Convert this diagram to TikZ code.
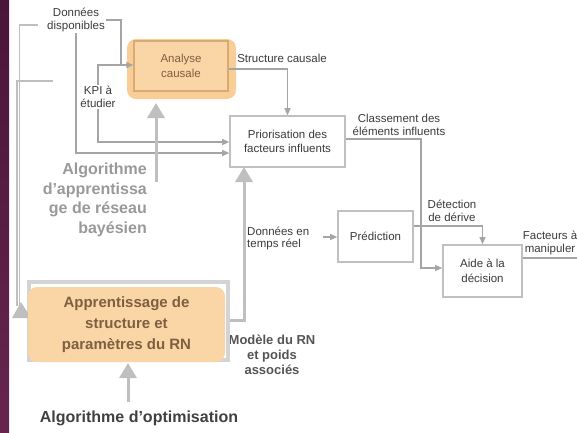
\documentclass[tikz,border=0pt]{standalone}
\usepackage{fontspec}
\setmainfont{Liberation Sans}
\usetikzlibrary{arrows.meta,calc}

\definecolor{txt}{HTML}{3A3A3A}
\definecolor{conn}{HTML}{A5A5A5}
\definecolor{boxgray}{HTML}{C0C0C0}
\definecolor{bigray}{HTML}{BFBFBF}
\definecolor{orfill}{HTML}{FAD5A6}
\definecolor{orglow}{HTML}{F9CD96}
\definecolor{oredge}{HTML}{D9AA74}
\definecolor{brown}{HTML}{7E5F40}
\definecolor{plumdark}{HTML}{4A1538}
\definecolor{plumlight}{HTML}{66254F}

\tikzset{
  lbl/.style={font=\fontsize{11.5}{13.5}\selectfont, text=txt, align=center, inner sep=1pt},
  stepbox/.style={draw=boxgray, line width=1.6pt, fill=white, text=txt,
    font=\fontsize{11.5}{14.5}\selectfont, align=center, inner sep=0pt},
  link/.style={draw=conn, line width=1.1pt},
  linkarrow/.style={link, -{Triangle[length=7pt,width=6pt]}},
  bigarrow/.style={draw=bigray, line width=3pt, -{Triangle[length=15pt,width=17pt]}},
}

\begin{document}
\begin{tikzpicture}[x=1pt,y=-1pt]
\useasboundingbox (0,0) rectangle (577,432);
\clip (0,0) rectangle (577,432);

% plum band on the left edge
\shade[top color=plumdark, bottom color=plumlight] (0,0) rectangle (9,432);

% ---- text labels ----
\node[lbl] (dispo) at (76,20) {Données\\disponibles};
\node[lbl] (kpi) at (98,97) {KPI à\\étudier};
\node[lbl] (struct) at (282,58) {Structure causale};
\node[lbl] (classe) at (399,125) {Classement des\\éléments influents};
\node[lbl] (detect) at (452,211) {Détection\\de dérive};
\node[lbl, font=\fontsize{11.5}{12}\selectfont, align=left, anchor=west] (reel) at (246,238) {Données en\\temps réel};
\node[lbl] (facteurs) at (550,243) {Facteurs à\\manipuler};
\node[font=\bfseries\fontsize{16}{19.5}\selectfont, text=black!40, align=right, anchor=east, inner sep=0pt]
  (bayes) at (147,200) {Algorithme\\d’apprentissa\\ge de réseau\\bayésien};
\node[font=\bfseries\fontsize{13}{15}\selectfont, text=black!67, align=center, inner sep=0pt]
  (modele) at (272,355) {Modèle du RN\\et poids\\associés};
\node[font=\bfseries\fontsize{16}{19}\selectfont, text=black!75, inner sep=0pt]
  (optim) at (139,418) {Algorithme d’optimisation};

% ---- orange halo behind the causal analysis box ----
\fill[orglow, rounded corners=9pt] (127,39) rectangle (236,99);

% ---- junction points ----
\coordinate (j1) at (121,65);
\coordinate (bend) at (421,268);
\coordinate (left1) at (38,25);
\coordinate (left2) at (53,81);
\coordinate (exit) at (590,258);

% ---- process boxes ----
\node[stepbox, draw=oredge, fill=orfill, line width=1.4pt, text=brown, minimum width=94pt, minimum height=50pt]
  (analyse) at (181,66) {Analyse\\causale};
\node[stepbox, minimum width=115pt, minimum height=51pt] (prior) at (287.5,141.5) {Priorisation des\\facteurs influents};
\node[stepbox, minimum width=75pt, minimum height=51pt] (pred) at (375.5,236.5) {Prédiction};
\node[stepbox, minimum width=79pt, minimum height=52pt] (aide) at (482.5,271) {Aide à la\\décision};

% learning block: grey frame with the orange box on top
\draw[draw=black!17, line width=4pt] (29,282) rectangle (228,360);
\coordinate (frameE) at (230,320);
\fill[bigray] (12,318) -- (21,302) -- (31,318) -- cycle;
\node[fill=orfill, rounded corners=9pt, minimum width=197pt, minimum height=75pt, inner sep=0pt,
  text=brown, font=\bfseries\fontsize{15}{21}\selectfont, align=center]
  (appr) at (126.5,324.5) {Apprentissage de\\structure et\\paramètres du RN};

% ---- thin connectors ----
\draw[linkarrow] (dispo.east) -| (j1) -- (j1 -| analyse.west);
\draw[link] (kpi.north) |- (j1);
\draw[linkarrow] (kpi.south) |- (prior.west |- 0,142);
\draw[linkarrow] (dispo.south) |- (prior.west |- 0,153);
\draw[linkarrow] (analyse.east |- 0,69) -| (prior.north);
\draw[linkarrow] (prior.east |- 0,139) -| (bend) -- (bend -| aide.west);
\draw[linkarrow] (pred.east |- 0,226) -| (aide.north);
\draw[linkarrow, shorten <=13pt] (reel.east |- 0,237) -- (pred.west |- 0,237);
\draw[linkarrow] (aide.east |- 0,258) -- (exit);

% feedback lines on the left edge
\draw[draw=black!25, line width=1.4pt] (left1) -| (19.5,306);
\draw[draw=black!25, line width=1.4pt] (left2) -| (17,306);

% ---- wide grey arrows ----
\draw[bigarrow, shorten >=4pt] (156,182) -- (156,99);
\draw[bigarrow] (frameE) -| (244,167);
\draw[bigarrow] (optim.north -| 128,0) ++(0,-8) -- (128,363);
\end{tikzpicture}
\end{document}
